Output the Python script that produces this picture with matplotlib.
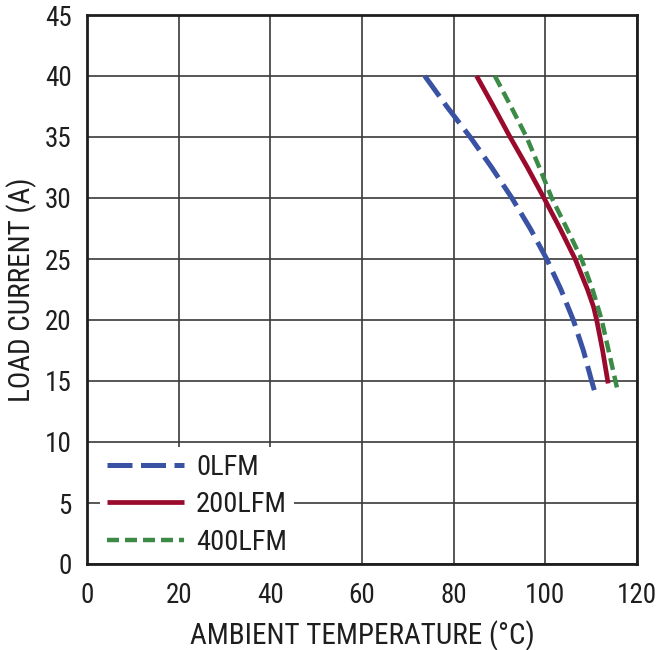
import matplotlib
matplotlib.use("Agg")
import matplotlib.pyplot as plt

plt.rcParams['font.family'] = ['Roboto Condensed', 'DejaVu Sans']

# Data
t_0lfm = [73.7, 78.5, 83.6, 88.3, 92.7, 96.7, 100.3, 103.4, 106.1, 108.3, 110.1, 110.8]
i_0lfm = [40.0, 37.5, 35.0, 32.5, 30.0, 27.5, 25.0, 22.5, 20.0, 17.5, 15.0, 14.1]

t_200lfm = [85.0, 88.7, 92.3, 96.1, 99.7, 103.2, 106.5, 109.2, 110.5, 111.2, 112.5, 113.7]
i_200lfm = [40.0, 37.5, 35.0, 32.5, 30.0, 27.5, 25.0, 22.5, 21.1, 20.0, 17.5, 14.8]

t_400lfm = [89.0, 92.5, 95.9, 98.7, 101.4, 104.7, 107.9, 110.3, 112.3, 114.1, 115.9]
i_400lfm = [40.0, 37.5, 35.0, 32.5, 30.0, 27.5, 25.0, 22.5, 20.0, 17.0, 14.0]

labels = ["0LFM", "200LFM", "400LFM"]
x_ticks = [0, 20, 40, 60, 80, 100, 120]
y_ticks = [0, 5, 10, 15, 20, 25, 30, 35, 40, 45]

TXT = '#1e1e1e'
FS_TICK = 19.5
FS_LABEL = 21
FS_LEG = 20.5

fig = plt.figure(figsize=(6.62, 6.5), dpi=100)
ax = fig.add_axes([87/662, 1-564/650, 550/662, 549/650])

ax.plot(t_0lfm, i_0lfm, color='#3a52a3', lw=3.6, dashes=(5.0, 1.7), label=labels[0],
        dash_capstyle='butt')
ax.plot(t_200lfm, i_200lfm, color='#990a2c', lw=3.4, label=labels[1], solid_capstyle='butt')
ax.plot(t_400lfm, i_400lfm, color='#3b8a46', lw=3.2, dashes=(2.7, 1.35), label=labels[2],
        dash_capstyle='butt')

ax.set_xlim(0, 120)
ax.set_ylim(0, 45)
ax.set_xticks(x_ticks)
ax.set_yticks(y_ticks)
ax.grid(True, color='#3a3a3a', lw=1.2)
ax.set_axisbelow(True)
ax.tick_params(length=0, labelsize=FS_TICK, colors=TXT)
ax.tick_params(axis='y', pad=11)
ax.tick_params(axis='x', pad=13)
for s in ax.spines.values():
    s.set_linewidth(2)
    s.set_color('#1e1e1e')
    s.set_zorder(6)

ax.set_xlabel("AMBIENT TEMPERATURE (°C)", fontsize=FS_LABEL, color=TXT, labelpad=8)
ax.set_ylabel("LOAD CURRENT (A)", fontsize=FS_LABEL, color=TXT, labelpad=6)

leg = ax.legend(loc='upper left', bbox_to_anchor=(13/550, 117/549), fontsize=FS_LEG,
                frameon=True, facecolor='white', edgecolor='none', framealpha=1,
                fancybox=False, handlelength=2.7, handletextpad=0.42,
                labelspacing=0.36, borderpad=0.25, borderaxespad=0)
leg.set_zorder(5)
for t in leg.get_texts():
    t.set_color(TXT)

fig.savefig("out.png", dpi=100)
